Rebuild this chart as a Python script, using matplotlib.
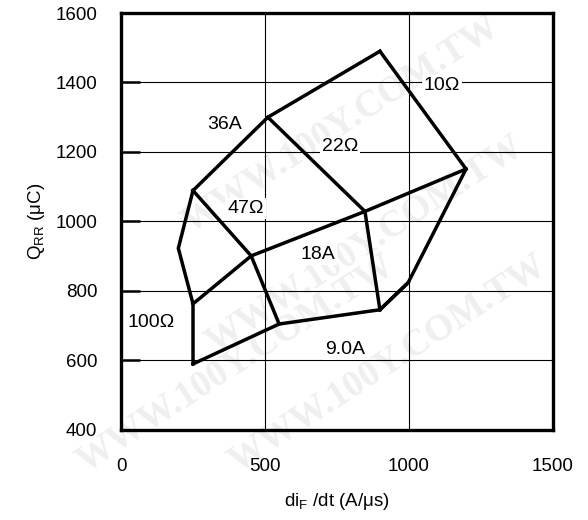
import matplotlib
matplotlib.use("Agg")
import matplotlib.pyplot as plt

plt.rcParams['font.family'] = ['Liberation Sans', 'DejaVu Sans']
plt.rcParams['mathtext.default'] = 'regular'

# curve families (x = diF/dt in A/us, y = Qrr in uC)
i36_x = [250, 510, 899]
i36_y = [1089, 1300, 1490]
i18_x = [250, 452, 847, 1198]
i18_y = [763, 901, 1029, 1151]
i9_x = [250, 549, 899, 997]
i9_y = [590, 705, 746, 824]
r100_x = [250, 199, 250, 250]
r100_y = [1089, 923, 763, 590]
r47_x = [250, 452, 549]
r47_y = [1089, 901, 705]
r22_x = [510, 847, 899]
r22_y = [1300, 1029, 746]
r10_x = [899, 1198, 997, 899]
r10_y = [1490, 1151, 824, 746]

labels = ['10Ω', '36A', '22Ω', '47Ω', '18A', '100Ω', '9.0A']
label_x = [1115, 361, 760, 432, 683, 105, 778]
label_y = [1390, 1278, 1216, 1038, 904, 709, 633]

x_ticks = [0, 500, 1000, 1500]
y_ticks = [400, 600, 800, 1000, 1200, 1400, 1600]

fig = plt.figure(figsize=(5.88, 5.2), dpi=100)

# faint watermark behind everything
wm = 'WWW.100Y.COM.TW'
for fx, fy in [(0.58, 0.76), (0.62, 0.53), (0.66, 0.30), (0.40, 0.30)]:
    fig.text(fx, fy, wm, fontsize=27, family='Liberation Serif', fontweight='bold',
             color='#efefef', rotation=33, ha='center', va='center', zorder=0)

ax = fig.add_axes([0.2058, 0.1731, 0.7347, 0.8019])
ax.set_zorder(1)
ax.patch.set_alpha(0)

series = [(i36_x, i36_y), (i18_x, i18_y), (i9_x, i9_y),
          (r100_x, r100_y), (r47_x, r47_y), (r22_x, r22_y), (r10_x, r10_y)]
for xs, ys in series:
    ax.plot(xs, ys, color='black', lw=2.5, solid_joinstyle='miter', zorder=3)

for txt, tx, ty in zip(labels, label_x, label_y):
    ax.text(tx, ty, txt, fontsize=14, ha='center', va='center', zorder=2,
            bbox=dict(facecolor='white', edgecolor='none', pad=1.5))

ax.set_xlim(0, 1500)
ax.set_ylim(400, 1600)
ax.set_xticks(x_ticks)
ax.set_yticks(y_ticks)
ax.grid(True, color='black', lw=0.8)
ax.set_axisbelow(True)
for s in ax.spines.values():
    s.set_linewidth(2.4)

ax.tick_params(axis='x', length=0, pad=20, labelsize=13.5)
ax.tick_params(axis='y', direction='in', length=14, width=1.8, pad=17, labelsize=13.5)

ax.set_xlabel('di$_{F}$ /dt (A/μs)', fontsize=13.5, labelpad=12)
ax.set_ylabel('Q$_{RR}$ (μC)', fontsize=13.5, labelpad=6)

fig.savefig('out.png', dpi=100)
